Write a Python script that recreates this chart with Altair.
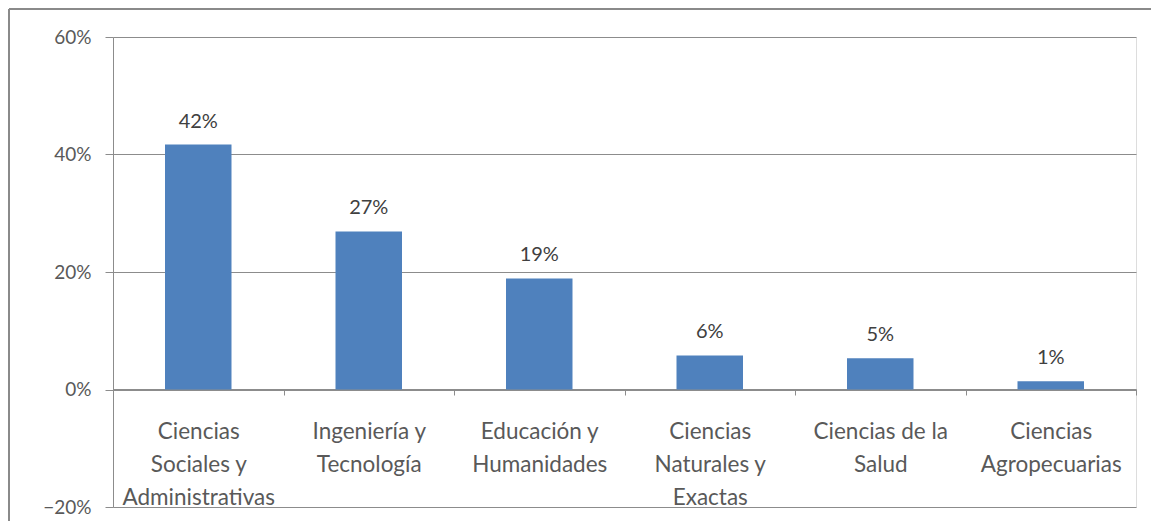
import altair as alt
import pandas as pd

categories = [
    "Ciencias\nSociales y\nAdministrativas",
    "Ingeniería y\nTecnología",
    "Educación y\nHumanidades",
    "Ciencias\nNaturales y\nExactas",
    "Ciencias de la\nSalud",
    "Ciencias\nAgropecuarias",
]
values = [0.417, 0.269, 0.189, 0.058, 0.053, 0.014]
y_ticks = [-0.2, 0.0, 0.2, 0.4, 0.6]

df = pd.DataFrame({"cat": categories, "val": values})

FONT = "Lato"
TXT = "#595959"
GRID = "#8c8c8c"

x = alt.X(
    "cat:N",
    sort=categories,
    scale=alt.Scale(paddingInner=0, paddingOuter=0),
    axis=alt.Axis(
        title=None,
        labelAngle=0,
        labelExpr="split(datum.label, '\\n')",
        labelLimit=0,
        labelFont=FONT,
        labelFontSize=22.5,
        labelColor=TXT,
        labelLineHeight=33,
        labelPadding=25,
        labelBaseline="top",
        tickBand="extent",
        tickSize=6,
        tickColor=GRID,
        domainColor=GRID,
        offset=-118,
        grid=False,
    ),
)
y = alt.Y(
    "val:Q",
    scale=alt.Scale(domain=[-0.2, 0.6], nice=False, zero=False),
    axis=alt.Axis(
        title=None,
        values=y_ticks,
        format=".0%",
        labelFont=FONT,
        labelFontSize=19,
        labelColor=TXT,
        labelPadding=14,
        tickSize=8,
        tickColor=GRID,
        domainColor=GRID,
        gridColor=GRID,
        grid=True,
    ),
)

bars = alt.Chart(df).mark_bar(
    color="#4F81BD", width=alt.RelativeBandSize(0.39)
).encode(x=x, y=y)

labels = alt.Chart(df).mark_text(
    font=FONT, fontSize=20, color="#404040", baseline="bottom", dy=-13
).encode(
    x=alt.X("cat:N", sort=categories),
    y=alt.Y("val:Q"),
    text=alt.Text("val:Q", format=".0%"),
)

frame_top = alt.Chart(alt.Data(values=[{}])).mark_rule(
    stroke="#8a8a8a", strokeWidth=2
).encode(x=alt.value(-104), x2=alt.value(1038), y=alt.value(-28))

frame_left = alt.Chart(alt.Data(values=[{}])).mark_rule(
    stroke="#8a8a8a", strokeWidth=2
).encode(x=alt.value(-104), y=alt.value(-28), y2=alt.value(490))

chart = (
    alt.layer(bars, labels, frame_top, frame_left)
    .properties(width=1023, height=470, padding={"left": 105, "top": 29, "right": 15, "bottom": 14})
    .configure_view(stroke="transparent")
    .configure(background="white")
)
chart = chart.properties(autosize=alt.AutoSizeParams(type="none"))

chart.save("out.html", embed_options={"renderer": "svg", "actions": False})
